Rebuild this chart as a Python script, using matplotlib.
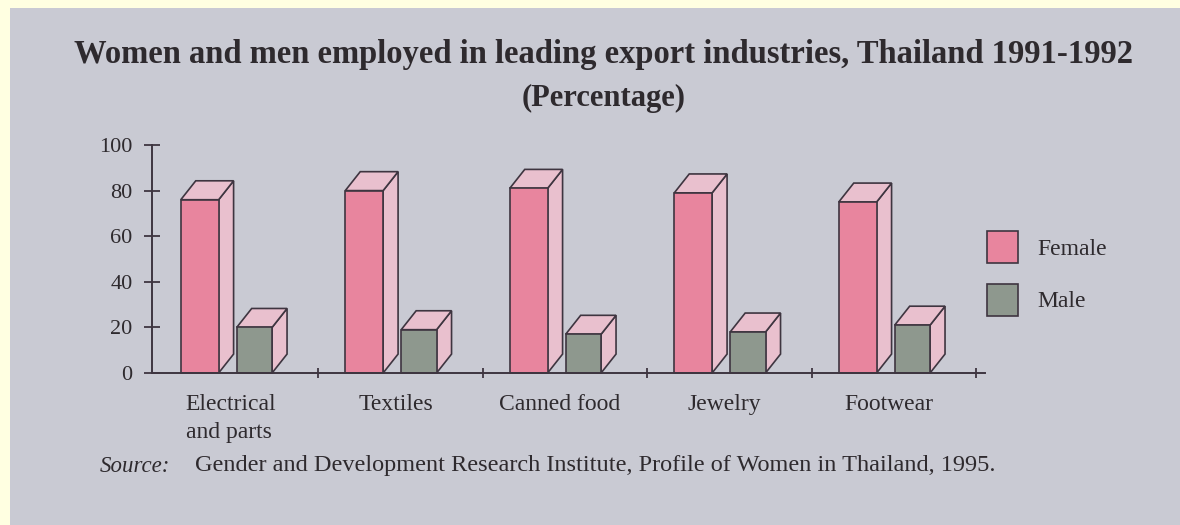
import matplotlib
matplotlib.use("Agg")
import matplotlib.pyplot as plt
from matplotlib.patches import Polygon, Rectangle, Patch

# ---- data ----
categories = ["Electrical\nand parts", "Textiles", "Canned food", "Jewelry", "Footwear"]
female = [76, 80, 81, 79, 75]
male = [20, 19, 17, 18, 21]
yticks = [0, 20, 40, 60, 80, 100]
series_names = ["Female", "Male"]

title_line1 = "Women and men employed in leading export industries, Thailand 1991-1992"
title_line2 = "(Percentage)"
source_label = "Source:"
source_text = "Gender and Development Research Institute, Profile of Women in Thailand, 1995."

# ---- style ----
W, H = 1180, 525
OUTER = "#FFFFE1"
PANEL = "#C9CAD3"
PINK = "#E8859E"
LIGHT_PINK = "#E9C0CE"
GREY = "#8E988E"
EDGE = "#3E3540"
TEXT = "#2E2A2E"
SERIF = ["Liberation Serif", "DejaVu Serif"]

plt.rcParams["font.family"] = SERIF

fig = plt.figure(figsize=(W / 100, H / 100), dpi=100)
fig.patch.set_facecolor(OUTER)
fig.add_artist(Rectangle((10 / W, 0), 1, 1 - 8 / H, transform=fig.transFigure,
                         facecolor=PANEL, edgecolor="none", zorder=-10))

ax = fig.add_axes([152 / W, 152 / H, (985 - 152) / W, 228 / H])
ax.set_facecolor("none")
ax.set_xlim(-0.45, 4.614)
ax.set_ylim(0, 100)

# 3-D bar geometry (data units)
DX, DY = 0.091, 8.3
FW, MW = 0.23, 0.215
F_OFF, M_OFF = -0.275, 0.065


def bar3d(x0, w, h, front, side):
    kw = dict(edgecolor=EDGE, linewidth=1.2, joinstyle="miter", clip_on=False)
    ax.add_patch(Polygon([(x0 + w, 0), (x0 + w + DX, DY), (x0 + w + DX, h + DY), (x0 + w, h)],
                         closed=True, facecolor=side, zorder=3, **kw))
    ax.add_patch(Polygon([(x0, h), (x0 + w, h), (x0 + w + DX, h + DY), (x0 + DX, h + DY)],
                         closed=True, facecolor=side, zorder=3, **kw))
    ax.add_patch(Polygon([(x0, 0), (x0 + w, 0), (x0 + w, h), (x0, h)],
                         closed=True, facecolor=front, zorder=4, **kw))


for i, (f, m) in enumerate(zip(female, male)):
    bar3d(i + F_OFF, FW, f, PINK, LIGHT_PINK)
    bar3d(i + M_OFF, MW, m, GREY, LIGHT_PINK)

# axes styling
for s in ["top", "right"]:
    ax.spines[s].set_visible(False)
for s in ["left", "bottom"]:
    ax.spines[s].set_color(EDGE)
    ax.spines[s].set_linewidth(1.4)
    ax.spines[s].set_zorder(5)

ax.set_yticks(yticks)
ax.set_yticklabels([str(v) for v in yticks])
ax.tick_params(axis="y", direction="inout", length=12, width=1.3, color=EDGE,
               labelsize=16, labelcolor=TEXT, pad=8)

n = len(categories)
ax.set_xticks([i + 0.56 for i in range(n)])
ax.set_xticklabels([])
ax.tick_params(axis="x", which="major", direction="inout", length=7, width=1.3, color=EDGE)
ax.set_xticks([i + 0.03 for i in range(n)], minor=True)
ax.set_xticklabels(categories, minor=True)
ax.tick_params(axis="x", which="minor", length=0, labelsize=17, labelcolor=TEXT, pad=15)
for lbl in ax.get_xticklabels(minor=True):
    lbl.set_multialignment("left")
    lbl.set_linespacing(1.45)

# legend
handles = [Patch(facecolor=PINK, edgecolor=EDGE, linewidth=1.2),
           Patch(facecolor=GREY, edgecolor=EDGE, linewidth=1.2)]
leg = fig.legend(handles, series_names, loc="upper left",
                 bbox_to_anchor=(987 / W, 1 - 231 / H), frameon=False,
                 fontsize=17, handlelength=1.3, handleheight=1.7,
                 handletextpad=0.85, labelspacing=0.88, borderpad=0, borderaxespad=0)
for t in leg.get_texts():
    t.set_color(TEXT)

# titles and source
fig.text(604 / W, 1 - 55 / H, title_line1, ha="center", va="center",
         fontsize=23.5, fontweight="bold", color=TEXT)
fig.text(604 / W, 1 - 98 / H, title_line2, ha="center", va="center",
         fontsize=22, fontweight="bold", color=TEXT)
fig.text(100 / W, 1 - 466 / H, source_label, ha="left", va="center",
         fontsize=16.5, style="italic", color=TEXT)
fig.text(195 / W, 1 - 466 / H, source_text, ha="left", va="center",
         fontsize=17.5, color=TEXT)

fig.savefig("out.png", dpi=100, facecolor=OUTER)
